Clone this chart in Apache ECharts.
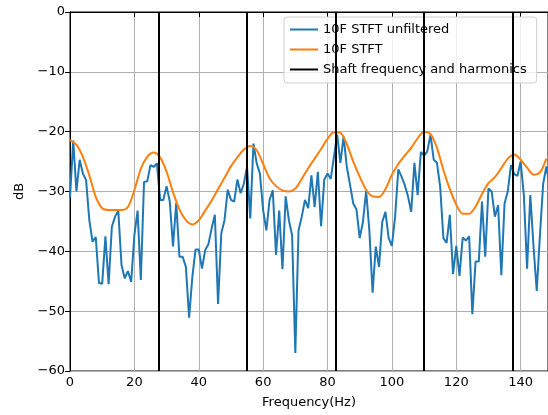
<!DOCTYPE html>
<html>
<head>
<meta charset="utf-8">
<script src="https://cdn.jsdelivr.net/npm/echarts@6/dist/echarts.min.js"></script>
<style>
  html, body { margin: 0; padding: 0; background: #fff; }
  #chart { width: 548px; height: 415px; }
</style>
</head>
<body>
<div id="chart"></div>
<script>
// unfiltered spectrum, one value per Hz starting at 0 Hz
var unfiltered = [
  -31, -21.5, -30, -24.7, -27, -28.1, -34.8, -38.4, -37.6, -45.3,
  -45.4, -37.5, -45.5, -35.9, -34.2, -33.2, -42.3, -44.5, -43.3, -45.1,
  -37.3, -33.2, -44.8, -28.4, -28.3, -25.6, -25.9, -25.3, -31.4, -31.4,
  -29.1, -31.7, -39.2, -31.9, -40.9, -40.9, -42.6, -51.1, -44.3, -39.7,
  -39.7, -42.9, -39.8, -38.8, -36.2, -33.9, -48.8, -37, -34.8, -29.7,
  -31.4, -31.7, -28, -30.3, -28.7, -25.9, -34.5, -22, -25.3, -27,
  -33.1, -36.5, -31.4, -29.8, -40.6, -33.2, -43, -30.8, -34.8, -37.3,
  -57, -36.5, -34.2, -31.4, -32.8, -27.3, -32.6, -26.7, -35.8, -28,
  -27, -27.9, -24.2, -20.5, -25.2, -20.8, -25.9, -28.9, -32, -33,
  -37.8, -35.1, -29.9, -36.5, -46.9, -39.2, -42.6, -35.1, -33.4, -37.8,
  -39.1, -34.2, -26.3, -27.5, -28.9, -30.8, -33.4, -25.2, -30.6, -23.4,
  -24, -23.3, -20.5, -24.7, -25.2, -29.2, -37.8, -38.6, -33.9, -43.8,
  -39.1, -44.1, -37.7, -38.2, -37.5, -50.5, -41.7, -41.7, -31.7, -40.9,
  -29.5, -30, -34.2, -32.3, -44, -32, -30, -25.6, -27.1, -27.4,
  -25, -30.6, -42.9, -30.6, -39.2, -46.6, -37.3, -28.7, -25.8, -29
];

// filtered (smooth) spectrum, read every 2 Hz
var filteredFreq = [
  0, 2, 4, 6, 8, 10, 12, 14, 16, 18, 20, 22, 24, 26, 28, 30, 32, 34, 36, 38,
  40, 42, 44, 46, 48, 50, 52, 54, 56, 58, 60, 62, 64, 66, 68, 70, 72, 74, 76, 78,
  80, 82, 84, 86, 88, 90, 92, 94, 96, 98, 100, 102, 104, 106, 108, 110, 112, 114, 116, 118,
  120, 122, 124, 126, 128, 130, 132, 134, 136, 138, 140, 142, 144, 146, 148
];
var filtered = [
  -21.4, -22.2, -24.2, -27.3, -30.9, -32.8, -33.1, -33.1, -33.1, -32.6,
  -29.8, -26.2, -24.2, -23.5, -24.3, -26.7, -30.1, -33, -34.8, -35.5,
  -34.8, -33.2, -31.5, -29.6, -27.7, -25.8, -24.3, -23, -22.4, -23.1,
  -25.4, -27.8, -29.1, -29.8, -30, -29.5, -27.9, -26.1, -24.5, -22.9,
  -21.2, -20.1, -20.2, -22.1, -25, -27.5, -29.7, -30.8, -30.9, -29.6,
  -27.2, -25.4, -24, -22.7, -21.1, -20, -20.4, -22.7, -26.4, -29.6,
  -32.2, -33.7, -33.7, -32.5, -30.4, -28.6, -27.6, -26.1, -24.5, -23.8,
  -24.7, -26, -27.2, -26.8, -24.5
];

var harmonics = [27.5, 55, 82.5, 110, 137.5];

var blueData = unfiltered.map(function (v, i) { return [i, v]; });
var orangeData = filtered.map(function (v, i) { return [filteredFreq[i], v]; });

var dom = document.getElementById('chart');
var myChart = echarts.init(dom, null, { renderer: 'canvas' });

var font = 'DejaVu Sans';
var minus = function (v) { return String(v).replace('-', '\u2212'); };

var option = {
    animation: false,
    textStyle: { fontFamily: font },
    grid: {
        left: 70, top: 12, right: -1, bottom: 44,
        show: true, borderColor: '#000', borderWidth: 1
    },
    legend: {
        orient: 'vertical',
        left: 284, top: 17,
        icon: 'rect',
        itemWidth: 28, itemHeight: 2, itemGap: 7,
        padding: [6, 10, 7, 6],
        backgroundColor: 'rgba(255,255,255,0.8)',
        borderColor: '#d0d0d0', borderWidth: 1, borderRadius: 3,
        textStyle: { fontFamily: font, fontSize: 13, color: '#000' },
        data: ['10F STFT unfiltered', '10F STFT', 'Shaft frequency and harmonics']
    },
    xAxis: {
        type: 'value', min: 0, max: 148.5, interval: 20,
        name: 'Frequency(Hz)', nameLocation: 'middle', nameGap: 25,
        nameTextStyle: { fontFamily: font, fontSize: 13, color: '#000' },
        axisLine: { lineStyle: { color: '#000' } },
        axisTick: { length: 5, lineStyle: { color: '#000' } },
        axisLabel: { fontFamily: font, fontSize: 13, color: '#000', margin: 5, showMaxLabel: false },
        splitLine: { show: true, lineStyle: { color: '#b0b0b0', width: 1 } }
    },
    yAxis: {
        type: 'value', min: -60, max: 0, interval: 10,
        name: 'dB', nameLocation: 'middle', nameGap: 44, nameRotate: 90,
        nameTextStyle: { fontFamily: font, fontSize: 13, color: '#000' },
        axisLine: { show: true, lineStyle: { color: '#000' } },
        axisTick: { show: true, length: 5, lineStyle: { color: '#000' } },
        axisLabel: { fontFamily: font, fontSize: 13, color: '#000', margin: 5, formatter: minus },
        splitLine: { show: true, lineStyle: { color: '#b0b0b0', width: 1 } }
    },
    series: [
        {
            name: '10F STFT unfiltered', type: 'line', data: blueData,
            symbol: 'none', z: 3,
            lineStyle: { color: '#1f77b4', width: 2 },
            itemStyle: { color: '#1f77b4' }
        },
        {
            name: '10F STFT', type: 'line', data: orangeData,
            symbol: 'none', smooth: 0.3, z: 3,
            lineStyle: { color: '#ff7f0e', width: 2 },
            itemStyle: { color: '#ff7f0e' }
        },
        {
            name: 'Shaft frequency and harmonics', type: 'line', data: [],
            symbol: 'none', z: 4,
            lineStyle: { color: '#000', width: 2 },
            itemStyle: { color: '#000' },
            markLine: {
                silent: true, symbol: 'none', animation: false,
                label: { show: false },
                lineStyle: { color: '#000', width: 2, type: 'solid' },
                data: harmonics.map(function (h) { return { xAxis: h }; })
            }
        }
    ]
};

myChart.setOption(option);
</script>
</body>
</html>
